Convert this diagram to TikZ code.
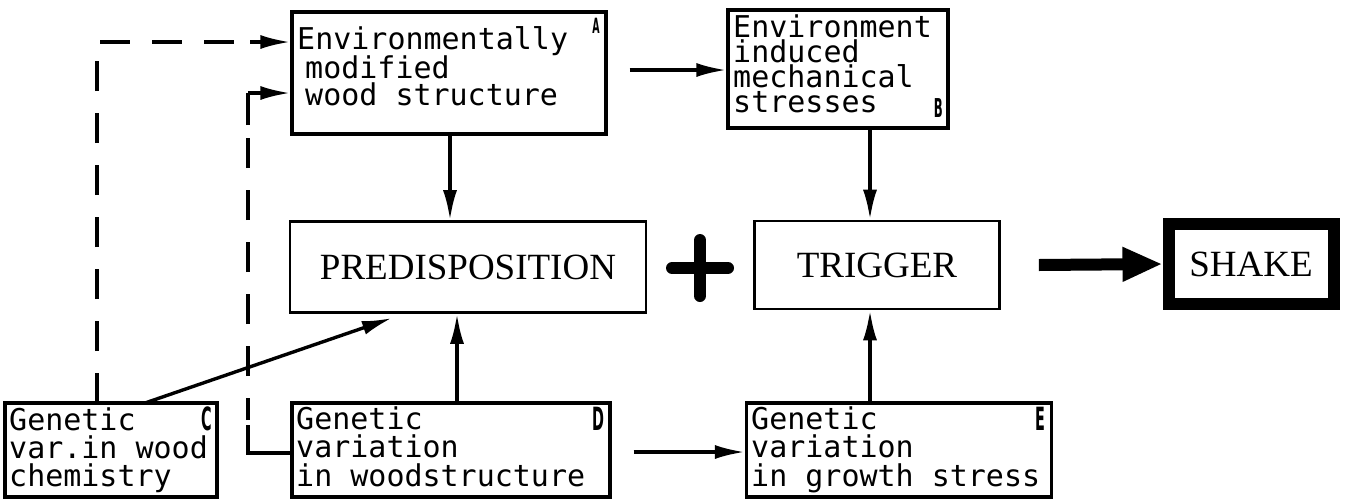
\documentclass[tikz,border=0pt]{standalone}
\usepackage{fontspec}
\setmainfont{Liberation Serif}
\newfontfamily\typer{DejaVu Sans Mono}
\newfontfamily\tagfont[FakeStretch=0.5]{DejaVu Sans Condensed}
\usetikzlibrary{arrows.meta}
\begin{document}
\begin{tikzpicture}[x=1pt,y=-1pt,
  notebox/.style={draw,line width=3.2pt,rectangle,inner sep=0pt},
  bigbox/.style={draw,line width=2.6pt,rectangle,inner sep=0pt,
    font=\fontsize{37}{40}\selectfont},
  txt/.style={anchor=base west,inner sep=0pt,
    font=\typer\fontsize{30}{26}\selectfont},
  tag/.style={anchor=base east,inner sep=0pt,
    font=\tagfont\bfseries\fontsize{32}{32}\selectfont},
  link/.style={line width=3.4pt,-{Latex[length=30pt,width=14pt]}},
  dashlink/.style={line width=3.4pt,dash pattern=on 30pt off 22pt},
]
\useasboundingbox (0,0) rectangle (1345,499);

% boxes
\node[notebox,minimum width=314pt,minimum height=122pt] (A) at (449,73) {};
\node[notebox,minimum width=220pt,minimum height=118pt] (B) at (838,69) {};
\node[notebox,minimum width=212pt,minimum height=94pt] (C) at (111,450) {};
\node[notebox,minimum width=318pt,minimum height=94pt] (D) at (451,450) {};
\node[notebox,minimum width=305pt,minimum height=94pt] (E) at (899,450) {};
\node[bigbox,minimum width=356pt,minimum height=91pt] (P) at (468,267) {PREDISPOSITION};
\node[bigbox,minimum width=245pt,minimum height=88pt] (T) at (877,265) {TRIGGER};
\node[draw,line width=12pt,inner sep=0pt,minimum width=165pt,minimum height=80pt,
  font=\fontsize{37}{40}\selectfont] (S) at (1251,264) {SHAKE};

% box texts
\node[txt] (a1) at (297,49) {Environmentally};
\node[txt] (a2) at (305,78) {modified};
\node[txt] (a3) at (305,105) {wood structure};
\node[tag,font=\tagfont\bfseries\fontsize{21}{21}\selectfont] (ta) at (600,33) {A};

\node[txt] (b1) at (733,37) {Environment};
\node[txt] (b2) at (733,62) {induced};
\node[txt] (b3) at (733,87) {mechanical};
\node[txt] (b4) at (733,112) {stresses};
\node[tag,font=\tagfont\bfseries\fontsize{26}{26}\selectfont] (tb) at (943,117) {B};

\node[txt] (c1) at (9,430) {Genetic};
\node[txt] (c2) at (9,458) {var.in wood};
\node[txt] (c3) at (9,486) {chemistry};
\node[tag] (tc) at (212,430) {C};

\node[txt] (d1) at (296,429) {Genetic};
\node[txt] (d2) at (296,457) {variation};
\node[txt] (d3) at (296,486) {in woodstructure};
\node[tag] (td) at (605,430) {D};

\node[txt] (e1) at (751,429) {Genetic};
\node[txt] (e2) at (751,457) {variation};
\node[txt] (e3) at (751,486) {in growth stress};
\node[tag] (te) at (1046,430) {E};

% plain arrows
\draw[link] (A.east |- 0,70) ++(22,0) coordinate (ab0) -- (B.west |- ab0);
\draw[link] (D.east |- 0,452) ++(22,0) coordinate (de0) -- (E.west |- de0);
\draw[link] (450,134) coordinate (ap0) -- (P.north -| ap0);
\draw[link] (457,403) coordinate (dp0) -- (P.south -| dp0);
\draw[link] (870,128) coordinate (bt0) -- (T.north -| bt0);
\draw[link] (870,403) coordinate (et0) -- (T.south -| et0);
\coordinate (cp1) at (392,318);
\draw[link] (145,403) coordinate (cp0) -- (cp1);

% dashed return paths to A
\coordinate (k1) at (97,42);
\draw[dashlink] (97,403) coordinate (k0) -- (k1) -- ++(150,0);
\draw[link] (250,42) -- (A.west |- k1);

\coordinate (m0) at (248,453);
\coordinate (m1) at (248,93);
\draw[line width=3.4pt] (D.west |- m0) -- (m0) -- ++(0,-28);
\draw[dashlink,dash phase=8pt] (248,420) -- (248,120);
\draw[line width=3.4pt] (248,125) -- (m1);
\draw[link] (m1) -- (A.west |- m1);

% plus sign
\draw[line width=12pt,line cap=round] (672,268) -- (728,268) (700,240) -- (700,296);

% thick arrow to the result
\draw[line width=12pt,-{Triangle[length=40pt,width=32pt]}] (T.east) ++(38,0) -- (S.west);
\end{tikzpicture}
\end{document}
